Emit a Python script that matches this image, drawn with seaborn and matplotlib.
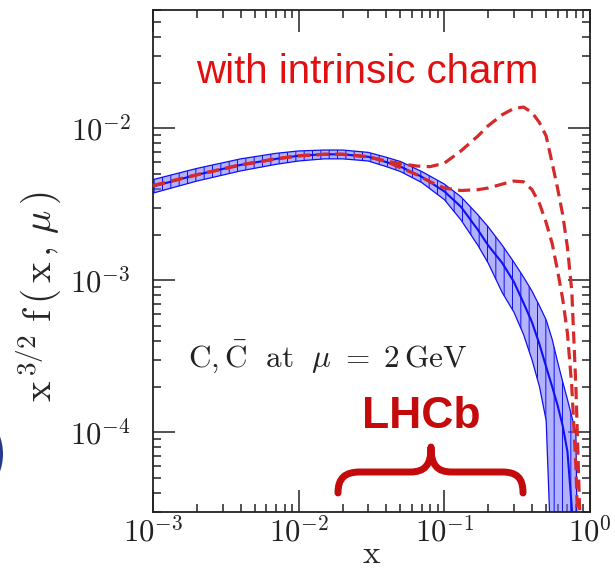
import numpy as np
import pandas as pd
import matplotlib
matplotlib.use("Agg")
import matplotlib.pyplot as plt
import seaborn as sns
from matplotlib.path import Path
from matplotlib.patches import PathPatch, Ellipse
from matplotlib.ticker import LogLocator, FixedLocator, FixedFormatter, NullFormatter

# charm PDF band (no intrinsic charm)
x_pdf = [0.001, 0.002, 0.004, 0.007, 0.01, 0.015, 0.02, 0.03, 0.04, 0.05, 0.07, 0.1,
         0.13, 0.17, 0.2, 0.25, 0.3, 0.35, 0.4, 0.45, 0.5, 0.55, 0.6, 0.65, 0.7, 0.75, 0.8, 0.85]
pdf_central = [4.15e-3, 4.95e-3, 5.75e-3, 6.3e-3, 6.6e-3, 6.75e-3, 6.75e-3, 6.5e-3, 6.0e-3, 5.6e-3,
               4.8e-3, 3.85e-3, 3.05e-3, 2.15e-3, 1.7e-3, 1.3e-3, 9.8e-4, 7.1e-4, 5.3e-4, 3.8e-4,
               2.7e-4, 2.0e-4, 1.5e-4, 1.1e-4, 7.5e-5, 3.2e-5, 1.0e-5, 2e-6]
pdf_low = [3.75e-3, 4.5e-3, 5.25e-3, 5.8e-3, 6.1e-3, 6.3e-3, 6.3e-3, 6.1e-3, 5.6e-3, 5.2e-3,
           4.4e-3, 3.4e-3, 2.5e-3, 1.7e-3, 1.3e-3, 8.3e-4, 6.2e-4, 4.4e-4, 3.0e-4, 2.0e-4,
           1.2e-4, 1e-5, 1e-6, 1e-6, 1e-6, 1e-6, 1e-6, 1e-6]
pdf_high = [4.6e-3, 5.45e-3, 6.3e-3, 6.85e-3, 7.1e-3, 7.2e-3, 7.2e-3, 6.95e-3, 6.45e-3, 6.05e-3,
            5.2e-3, 4.3e-3, 3.55e-3, 2.7e-3, 2.25e-3, 1.7e-3, 1.32e-3, 1.05e-3, 8.5e-4, 6.8e-4,
            5.5e-4, 4.1e-4, 2.9e-4, 2.15e-4, 1.65e-4, 1.27e-4, 1.0e-4, 1e-6]

# with intrinsic charm (two dashed curves)
x_ic = [0.001, 0.002, 0.004, 0.007, 0.01, 0.015, 0.02, 0.03, 0.04, 0.05, 0.065, 0.08, 0.1, 0.13,
        0.17, 0.2, 0.25, 0.3, 0.35, 0.4, 0.45, 0.5, 0.55, 0.6, 0.65, 0.7, 0.75, 0.8, 0.85, 0.9]
ic_high = [4.2e-3, 4.95e-3, 5.75e-3, 6.3e-3, 6.6e-3, 6.75e-3, 6.75e-3, 6.5e-3, 6.1e-3, 5.85e-3,
           5.65e-3, 5.6e-3, 5.9e-3, 7.1e-3, 8.9e-3, 1.04e-2, 1.23e-2, 1.35e-2, 1.38e-2, 1.27e-2,
           1.09e-2, 8.9e-3, 5.9e-3, 4.0e-3, 2.7e-3, 1.65e-3, 8.5e-4, 2.0e-4, 3e-5, 1e-6]
ic_low = [4.2e-3, 4.95e-3, 5.75e-3, 6.3e-3, 6.6e-3, 6.75e-3, 6.75e-3, 6.5e-3, 6.05e-3, 5.5e-3,
          4.95e-3, 4.45e-3, 4.05e-3, 3.9e-3, 3.95e-3, 4.05e-3, 4.3e-3, 4.5e-3, 4.45e-3, 3.95e-3,
          3.2e-3, 2.4e-3, 1.75e-3, 1.15e-3, 7.5e-4, 4.5e-4, 2.0e-4, 6e-5, 1e-5, 1e-6]

xtick_vals = [1e-3, 1e-2, 1e-1, 1e0]
xtick_labels = [r"$10^{-3}$", r"$10^{-2}$", r"$10^{-1}$", r"$10^{0}$"]
ytick_vals = [1e-4, 1e-3, 1e-2]
ytick_labels = [r"$10^{-4}$", r"$10^{-3}$", r"$10^{-2}$"]

W, H = 615, 570


def px(x, y):
    # pixel position in the picture -> figure fraction
    return (x / W, 1 - y / H)


sns.set_style("ticks")
plt.rcParams["mathtext.fontset"] = "cm"
plt.rcParams["font.family"] = ["DejaVu Serif"]
plt.rcParams["hatch.linewidth"] = 0.7
plt.rcParams["hatch.color"] = "#1a1aff"

fig = plt.figure(figsize=(W / 100, H / 100), dpi=100)
ax = fig.add_axes([153 / W, 1 - 512 / H, (590 - 153) / W, (512 - 10) / H])
ax.set_xscale("log")
ax.set_yscale("log")

df_pdf = pd.DataFrame({"x": x_pdf, "c": pdf_central, "lo": pdf_low, "hi": pdf_high})
df_ic = pd.DataFrame({"x": x_ic, "hi": ic_high, "lo": ic_low})

blue = "#1010f0"
ax.fill_between(df_pdf["x"], df_pdf["lo"], df_pdf["hi"], facecolor=(0.45, 0.45, 1.0, 0.55),
                edgecolor=blue, hatch="||", linewidth=0, zorder=1)
sns.lineplot(data=df_pdf, x="x", y="lo", color=blue, lw=0.9, ax=ax, errorbar=None, zorder=2)
sns.lineplot(data=df_pdf, x="x", y="hi", color=blue, lw=0.9, ax=ax, errorbar=None, zorder=2)
sns.lineplot(data=df_pdf, x="x", y="c", color=blue, lw=1.5, ax=ax, errorbar=None, zorder=3)

red = "#d62a2a"
for col in ["hi", "lo"]:
    sns.lineplot(data=df_ic, x="x", y=col, color=red, lw=2.3, ax=ax, errorbar=None, zorder=4)
    ax.lines[-1].set_dashes((3.8, 2.0))

ax.set_xlim(1e-3, 1)
ax.set_ylim(3e-5, 0.06)

ax.xaxis.set_major_locator(FixedLocator(xtick_vals))
ax.xaxis.set_major_formatter(FixedFormatter(xtick_labels))
ax.yaxis.set_major_locator(FixedLocator(ytick_vals))
ax.yaxis.set_major_formatter(FixedFormatter(ytick_labels))
ax.xaxis.set_minor_locator(LogLocator(base=10, subs=np.arange(2, 10), numticks=20))
ax.yaxis.set_minor_locator(LogLocator(base=10, subs=np.arange(2, 10), numticks=20))
ax.xaxis.set_minor_formatter(NullFormatter())
ax.yaxis.set_minor_formatter(NullFormatter())
ax.tick_params(which="both", direction="in", top=True, right=True, width=1.1, colors="#222222")
ax.tick_params(which="major", length=16, labelsize=22)
ax.tick_params(which="minor", length=5.5)
ax.tick_params(axis="x", which="major", pad=4)
ax.tick_params(axis="y", which="major", pad=16)
for s in ax.spines.values():
    s.set_linewidth(1.3)
    s.set_color("#222222")

ax.set_xlabel(r"$\mathrm{x}$", fontsize=24)
ax.xaxis.set_label_coords(0.5, -0.052)
ax.set_ylabel(r"$\mathrm{x}^{\,3/2}\ \mathrm{f\,(\,x\,,\,}\mu\,\mathrm{)}$", fontsize=28)
ax.yaxis.set_label_coords(-0.205, 0.43)

fig.text(*px(367, 72), "with intrinsic charm", color="#e01010", fontsize=29,
         family="Liberation Sans", ha="center", va="center")
fig.text(*px(188, 357), r"$\mathrm{C},\bar{\mathrm{C}}\ \ \mathrm{at}\ \ \mu\ =\ 2\,\mathrm{GeV}$",
         color="#222222", fontsize=22.5, ha="left", va="center")
fig.text(*px(421, 416), "LHCb", color="#c40a0a", fontsize=32, fontweight="bold",
         family="Liberation Sans", ha="center", va="center")

# curly brace under LHCb
verts = [px(338, 493), px(338, 478), px(345, 472), px(360, 472),
         px(410, 472),
         px(425, 472), px(431, 465), px(431, 447),
         px(431, 465), px(437, 472), px(452, 472),
         px(502, 472),
         px(517, 472), px(523, 478), px(523, 493)]
codes = [Path.MOVETO, Path.CURVE4, Path.CURVE4, Path.CURVE4,
         Path.LINETO,
         Path.CURVE4, Path.CURVE4, Path.CURVE4,
         Path.CURVE4, Path.CURVE4, Path.CURVE4,
         Path.LINETO,
         Path.CURVE4, Path.CURVE4, Path.CURVE4]
brace = PathPatch(Path(verts, codes), transform=fig.transFigure, facecolor="none",
                  edgecolor="#c40a0a", lw=5, capstyle="round", joinstyle="round", zorder=5)
fig.patches.append(brace)

# edge of the dark blue disc at the left border
fig.patches.append(Ellipse(px(-50, 454), 2 * 53 / W, 2 * 53 / H, transform=fig.transFigure,
                           facecolor="#27398a", edgecolor="none"))

fig.savefig("out.png", dpi=100)
